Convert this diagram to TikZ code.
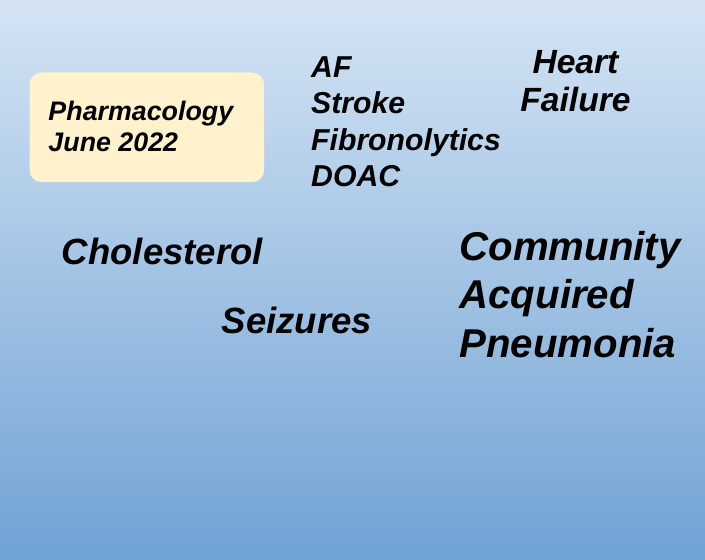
\documentclass[tikz,border=0pt]{standalone}
\usepackage{fontspec}
\setmainfont{Liberation Sans}
\begin{document}
\begin{tikzpicture}[x=1pt,y=1pt,
        topic/.style={inner sep=0pt,anchor=base west,align=left,font=\bfseries\itshape}]
        \definecolor{bgtop}{HTML}{D4E4F4}
        \definecolor{bgbot}{HTML}{70A2D4}
        \definecolor{boxfill}{HTML}{FFF2CC}
        \shade [top color=bgtop,bottom color=bgbot] (0,0) rectangle (705,560);
        \useasboundingbox (0,0) rectangle (705,560);

        % base anchor sits on the last line
        \draw (29.3,377.7) node (box) [rectangle,rounded corners=12pt,fill=boxfill,anchor=south west,minimum width=234.7pt,minimum height=109.6pt] {};
        \draw (48.3,408.3) node (pharm) [topic,font=\bfseries\itshape\fontsize{26.8}{30.7}\selectfont] {Pharmacology\\June 2022};

        \draw (311,373.3) node (af) [topic,font=\bfseries\itshape\fontsize{30.2}{36.5}\selectfont] {AF\\Stroke\\Fibronolytics\\DOAC};
        \draw (575.5,448.3) node (heart) [topic,anchor=base,align=center,font=\bfseries\itshape\fontsize{33.6}{38.4}\selectfont] {Heart\\Failure};

        \draw (61.7,295) node (chol) [topic,font=\bfseries\itshape\fontsize{36.5}{44}\selectfont] {Cholesterol};
        \draw (221.7,226.7) node (seiz) [topic,font=\bfseries\itshape\fontsize{36.5}{44}\selectfont] {Seizures};
        \draw (459.3,202.7) node (cap) [topic,font=\bfseries\itshape\fontsize{40.2}{48.3}\selectfont] {Community\\Acquired\\Pneumonia};
    \end{tikzpicture}
\end{document}
